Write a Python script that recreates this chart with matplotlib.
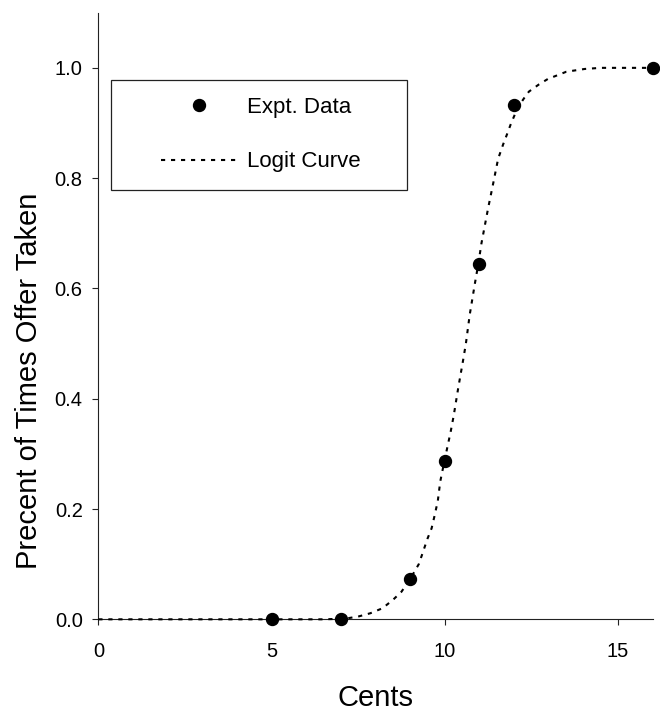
import matplotlib
matplotlib.use("Agg")
import matplotlib.pyplot as plt
from matplotlib.patches import Rectangle

plt.rcParams['font.family'] = ['Liberation Sans', 'DejaVu Sans']

# Experimental data
cents = [5, 7, 9, 10, 11, 12, 16]
taken = [0.0, 0.0, 0.073, 0.287, 0.645, 0.932, 1.0]

# Logit curve
curve_x = [0.0, 6.5, 7.0, 7.2, 7.5, 7.85, 8.2, 8.5, 8.75, 9.0, 9.25, 9.36, 9.5,
           9.62, 9.71, 9.8, 9.87, 10.0, 10.17, 10.26, 10.39, 10.53, 10.61, 10.72,
           10.87, 10.97, 11.06, 11.25, 11.40, 11.54, 11.69, 11.80, 11.90, 12.0,
           12.07, 12.15, 12.29, 12.43, 12.72, 12.98, 13.27, 13.51, 14.04, 14.5, 16.0]
curve_y = [0.0, 0.0, 0.001, 0.002, 0.005, 0.011, 0.020, 0.035, 0.050, 0.073, 0.100,
           0.120, 0.146, 0.165, 0.189, 0.215, 0.250, 0.290, 0.340, 0.370, 0.420,
           0.470, 0.500, 0.552, 0.609, 0.645, 0.682, 0.745, 0.791, 0.835, 0.862,
           0.880, 0.897, 0.912, 0.922, 0.932, 0.945, 0.957, 0.970, 0.980, 0.987,
           0.993, 0.998, 1.0, 1.0]

xticks = [0, 5, 10, 15]
yticks = [0.0, 0.2, 0.4, 0.6, 0.8, 1.0]
ytick_labels = ["0.0", "0.2", "0.4", "0.6", "0.8", "1.0"]

fig = plt.figure(figsize=(6.6, 7.14), dpi=100)
ax = fig.add_axes([0.149, 0.1326, 0.8398, 0.8496])

line, = ax.plot(curve_x, curve_y, color='black', lw=1.5,
                linestyle=(0, (2.0, 2.8)), zorder=3, clip_on=False,
                label='Logit Curve')
pts, = ax.plot(cents, taken, 'o', color='black', markersize=8.6,
               zorder=4, clip_on=False, label='Expt. Data', linestyle='none')

ax.set_xlim(0, 16)
ax.set_ylim(0, 1.1)
ax.set_xticks(xticks)
ax.set_yticks(yticks)
ax.set_yticklabels(ytick_labels)

for s in ['top', 'right']:
    ax.spines[s].set_visible(False)
for s in ['left', 'bottom']:
    ax.spines[s].set_linewidth(0.8)
    ax.spines[s].set_color('#222222')

ax.tick_params(axis='both', direction='out', length=4.3, width=0.8,
               color='#222222', labelsize=14.5)
ax.tick_params(axis='x', pad=12)
ax.tick_params(axis='y', pad=7)

ax.set_xlabel('Cents', fontsize=21)
ax.set_ylabel('Precent of Times Offer Taken', fontsize=21)
ax.xaxis.set_label_coords(0.5, -0.106)
ax.yaxis.set_label_coords(-0.099, 0.394)

# legend frame
ax.add_patch(Rectangle((0.0224, 0.708), 0.5336, 0.181, transform=ax.transAxes,
                       fill=False, edgecolor='#222222', lw=0.9, clip_on=False,
                       zorder=5))
ax.legend(handles=[pts, line], loc='center left',
          bbox_to_anchor=(0.1131, 0.7987), frameon=False, fontsize=16,
          borderpad=0, borderaxespad=0, handlelength=3.46,
          handletextpad=0.4, labelspacing=1.5, numpoints=1)

fig.savefig('out.png', dpi=100)
